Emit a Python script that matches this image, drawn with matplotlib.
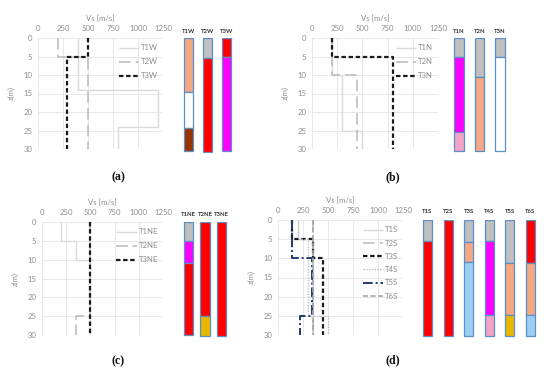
import numpy as np
import matplotlib
matplotlib.use("Agg")
import matplotlib.pyplot as plt

# ---------------- data ----------------
# Vs profiles: layer boundaries (m) and Vs (m/s)
a_names = ["T1W", "T2W", "T3W"]
a_depths = [[0, 14, 24, 30], [0, 5, 30], [0, 5, 30]]
a_vs = [[400, 1200, 800], [200, 500], [500, 290]]

b_names = ["T1N", "T2N", "T3N"]
b_depths = [[0, 10, 25, 30], [0, 10, 30], [0, 5, 30]]
b_vs = [[200, 300, 500], [200, 450], [200, 800]]

c_names = ["T1NE", "T2NE", "T3NE"]
c_depths = [[0, 5, 10, 30], [0, 25, 30], [0, 30]]
c_vs = [[200, 350, 500], [500, 350], [500]]

d_names = ["T1S", "T2S", "T3S", "T4S", "T5S", "T6S"]
d_depths = [[0, 5, 30], [0, 30], [0, 5, 10, 30], [0, 5, 25, 30], [0, 10, 25, 30], [0, 30]]
d_vs = [[200, 350], [350], [140, 350, 450], [200, 300, 500], [140, 340, 220], [350]]

# stratigraphic columns: layer boundaries and soil classes
SAL, GRY, RED, MAG, BRN, WHT, PNK, LBL, GLD = ("salmon", "gray", "red", "magenta", "brown",
                                              "white", "pink", "lightblue", "gold")
a_col_bounds = [[0, 14.6, 24.2, 30.6], [0, 5.4, 30.7], [0, 5.2, 30.6]]
a_col_class = [[SAL, WHT, BRN], [GRY, RED], [RED, MAG]]
b_col_bounds = [[0, 5.2, 25.4, 30.6], [0, 10.6, 30.6], [0, 5.2, 30.6]]
b_col_class = [[GRY, MAG, PNK], [GRY, SAL], [GRY, WHT]]
c_col_bounds = [[0, 5.0, 10.8, 30], [0, 25.0, 30.2], [0, 30.2]]
c_col_class = [[GRY, MAG, RED], [RED, GLD], [RED]]
d_col_bounds = [[0, 5.5, 30.2], [0, 30.2], [0, 5.7, 11.0, 30.2], [0, 5.6, 24.7, 30.2],
                [0, 11.2, 24.7, 30.2], [0, 11.2, 24.7, 30.2]]
d_col_class = [[GRY, RED], [RED], [GRY, SAL, LBL], [GRY, MAG, PNK], [GRY, SAL, GLD], [RED, SAL, LBL]]

x_ticks = [0, 250, 500, 750, 1000, 1250]
z_ticks = [0, 5, 10, 15, 20, 25, 30]

# ---------------- styles ----------------
class_colors = {SAL: "#F6A783", GRY: "#BFBFBF", RED: "#FF0000", MAG: "#FF00FF", BRN: "#993300",
                WHT: "#FFFFFF", PNK: "#F4A3C8", LBL: "#9DCDF0", GLD: "#E8B800"}
line_styles = {
    1: dict(color="#D9D9D9", lw=1.0, ls="-"),
    2: dict(color="#BFBFBF", lw=1.2, dashes=(7, 3)),
    3: dict(color="#1A1A1A", lw=1.6, dashes=(2, 1.2)),
    4: dict(color="#BFBFBF", lw=1.0, dashes=(1, 1)),
    5: dict(color="#1F3A70", lw=1.4, dashes=(5, 1.5, 1, 1.5)),
    6: dict(color="#A6A6A6", lw=1.2, dashes=(3, 1.5)),
}
TXT = "#8C8C8C"
plt.rcParams["font.family"] = ["Lato", "DejaVu Sans"]

W, H = 550, 374
fig = plt.figure(figsize=(W / 100, H / 100), dpi=100)


def px_axes(l, r, t, b):
    return fig.add_axes([l / W, 1 - b / H, (r - l) / W, (b - t) / H])


def stairs(depths, vs):
    x = np.repeat(np.asarray(vs, float), 2)
    y = np.column_stack([depths[:-1], depths[1:]]).ravel()
    return x, y


def profile(box, names, depths, vs, ylab_pad, spacing):
    ax = px_axes(*box)
    for n, d, v in zip(names, depths, vs):
        x, y = stairs(d, v)
        st = dict(line_styles[int(n[1])])
        ax.plot(x, y, label=n, solid_capstyle="butt", dash_capstyle="butt", **st)
    ax.set_xlim(0, 1250)
    ax.set_ylim(30, 0)
    ax.set_xticks(x_ticks)
    ax.set_yticks(z_ticks)
    ax.xaxis.tick_top()
    ax.xaxis.set_label_position("top")
    ax.tick_params(length=0, labelsize=5.6, colors=TXT, pad=4)
    ax.set_xlabel("Vs [m/s]", fontsize=5.6, color=TXT, labelpad=3)
    ax.set_ylabel("z(m)", fontsize=5.6, color=TXT, labelpad=ylab_pad)
    ax.grid(True, color="#E4E4E4", lw=0.6)
    for s in ax.spines.values():
        s.set_visible(False)
    ax.legend(loc="upper right", bbox_to_anchor=(1.0, 0.985), frameon=False, fontsize=5.6,
              labelcolor=TXT, handlelength=2.6, handletextpad=0.3, labelspacing=spacing,
              borderaxespad=0.2)
    return ax


def columns(box, names, bounds, classes, width, label_pad):
    l, r, t, b = box
    zmax = 31.0
    ax = px_axes(l, r, t, t + (b - t) * zmax / 30)
    n = len(names)
    for i in range(n):
        bd = bounds[i]
        for j, c in enumerate(classes[i]):
            ax.bar(i, bd[j + 1] - bd[j], bottom=bd[j], width=width, color=class_colors[c],
                   edgecolor="#5B8FC8", linewidth=0.9)
        ax.text(i, -label_pad, names[i], ha="center", va="bottom", fontsize=4.3,
                color="#333333", fontweight="bold")
    ax.set_xlim(-0.5, n - 0.5)
    ax.set_ylim(zmax, 0)
    ax.axis("off")
    return ax


profile((38, 163, 38, 149), a_names, a_depths, a_vs, 6, 0.9)
profile((312, 438, 38, 149), b_names, b_depths, b_vs, 6, 0.9)
profile((42, 163, 222, 335), c_names, c_depths, c_vs, 6, 0.9)
profile((278, 403, 220, 335), d_names, d_depths, d_vs, 6, 0.8)

columns((179, 236.5, 38, 149), a_names, a_col_bounds, a_col_class, 0.47, 1.2)
columns((448.75, 510.25, 38, 149), b_names, b_col_bounds, b_col_class, 0.44, 1.2)
columns((180.25, 229.75, 222, 335), c_names, c_col_bounds, c_col_class, 0.55, 1.2)
columns((417.2, 540.8, 220, 335), d_names, d_col_bounds, d_col_class, 0.44, 1.6)

for lab, (x, y) in zip(["(a)", "(b)", "(c)", "(d)"], [(118, 177), (393, 177), (118, 361), (393, 360)]):
    fig.text(x / W, 1 - y / H, lab, ha="center", va="center", fontsize=8.5,
             family="Liberation Serif", fontweight="bold", color="#111111")

fig.savefig("out.png", dpi=100)
